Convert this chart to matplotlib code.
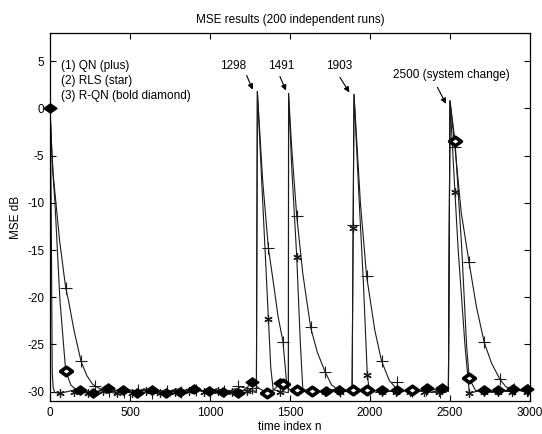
import matplotlib
matplotlib.use("Agg")
import matplotlib.pyplot as plt
from matplotlib.path import Path

plt.rcParams['font.family'] = ['Liberation Sans', 'DejaVu Sans']
plt.rcParams['axes.unicode_minus'] = False

# (1) QN  -- plus markers
qn_n = [0, 10, 20, 37, 60, 98, 115, 150, 194, 230, 265, 300, 340, 390, 440, 490, 540,
        590, 640, 690, 740, 790, 840, 890, 940, 990, 1040, 1090, 1140, 1190, 1240, 1290,
        1296, 1329, 1365, 1394, 1425, 1456, 1480, 1490, 1491, 1510, 1542, 1580, 1629,
        1670, 1719, 1760, 1800, 1850, 1888, 1900, 1940, 1979, 2030, 2073, 2120, 2160,
        2200, 2250, 2300, 2350, 2400, 2450, 2490, 2500, 2531, 2570, 2619, 2665, 2714,
        2760, 2812, 2850, 2900, 2950, 3000]
qn_db = [0, -4, -7, -10, -14, -19.0, -20.3, -23.5, -26.8, -28.3, -29.2, -29.6, -29.9,
         -29.7, -30.1, -29.8, -30.0, -29.7, -30.1, -29.9, -30.0, -29.7, -30.1, -29.8,
         -29.9, -30.1, -29.7, -29.9, -30.0, -29.5, -29.7, -30.0,
         1.8, -7.6, -14.8, -18.2, -22.0, -24.7, -29.3, -29.8, 1.6, -4.0, -11.4, -17.5,
         -23.2, -25.8, -27.9, -29.3, -29.8, -30.0, -29.9, 1.5, -10.0, -17.8, -23.5,
         -26.8, -28.8, -29.6, -29.9, -29.8, -30.0, -29.7, -30.0, -29.8, -29.9, 0.8,
         -4.1, -11.0, -16.3, -21.0, -24.8, -27.0, -28.7, -29.5, -29.8, -29.9, -29.8]
qn_mark_n = [98, 194, 280, 370, 460, 550, 640, 730, 820, 910, 1000, 1090, 1173, 1265,
             1365, 1458, 1542, 1629, 1719, 1810, 1893, 1979, 2073, 2167, 2260, 2350,
             2440, 2531, 2619, 2714, 2812, 2900, 2985]
qn_mark_db = [-19.0, -26.8, -29.4, -29.9, -30.0, -29.8, -30.1, -29.9, -30.0, -29.8, -30.0,
              -29.9, -29.4, -29.6, -14.8, -24.7, -11.4, -23.2, -27.9, -29.9, -12.3,
              -17.8, -26.8, -29.0, -29.9, -29.8, -30.0, -4.1, -16.3, -24.8, -28.7,
              -29.7, -29.8]

# (2) RLS -- star markers
rls_n = [0, 5, 8, 11, 14, 20, 30, 60, 110, 160, 210, 260, 310, 360, 410, 460, 510, 560,
         610, 660, 710, 760, 810, 860, 910, 960, 1010, 1060, 1110, 1160, 1210, 1260,
         1290, 1296, 1323, 1365, 1380, 1395, 1440, 1490, 1491, 1510, 1542, 1565, 1580,
         1620, 1670, 1720, 1770, 1820, 1860, 1888, 1900, 1930, 1958, 1983, 1995, 2040,
         2090, 2140, 2190, 2240, 2290, 2340, 2390, 2440, 2490, 2500, 2531, 2550, 2594,
         2621, 2660, 2710, 2760, 2810, 2860, 2910, 2960, 3000]
rls_db = [0, -6, -12, -20, -28, -29.6, -30.1, -30.2, -30.0, -29.8, -30.1, -30.2, -29.9,
          -30.0, -30.2, -29.9, -30.1, -30.0, -29.8, -30.1, -30.2, -29.9, -30.0, -30.1,
          -29.8, -30.0, -30.2, -29.9, -30.0, -29.7, -29.9, -30.0,
          -30.1, 1.8, -7.6, -22.3, -27.5, -29.8, -30.0, -30.1, 1.6, -6.0, -15.7, -25.0,
          -29.7, -30.0, -29.9, -30.1, -29.8, -30.0, -29.9, -30.0, 1.5, -9.0, -18.2,
          -28.2, -29.8, -30.1, -29.9, -30.0, -29.8, -30.1, -29.9, -30.0, -30.1, -29.9,
          -30.0, 0.8, -8.9, -14.7, -25.2, -30.2, -30.0, -29.9, -30.1, -29.9, -30.0,
          -29.8, -30.0, -29.9]
rls_mark_n = [60, 150, 240, 330, 420, 510, 600, 690, 780, 870, 960, 1050, 1140, 1230,
              1365, 1440, 1542, 1630, 1720, 1810, 1893, 1983, 2073, 2160, 2250, 2340,
              2430, 2531, 2621, 2712, 2800, 2890, 2980]
rls_mark_db = [-30.1, -30.0, -30.1, -29.9, -30.1, -30.1, -29.9, -30.1, -30.0, -29.9, -30.0,
               -29.9, -30.0, -29.9, -22.3, -30.0, -15.7, -30.0, -30.0, -30.0, -12.7,
               -28.2, -30.0, -30.0, -30.0, -30.0, -30.0, -8.9, -30.2, -30.0, -30.0,
               -30.0, -30.0]

# (3) R-QN -- bold diamond markers
rqn_n = [0, 15, 31, 62, 98, 130, 156, 187, 230, 270, 320, 363, 410, 455, 500, 543, 590,
         635, 680, 725, 770, 812, 855, 900, 950, 995, 1040, 1083, 1130, 1173, 1220, 1263,
         1310, 1356, 1400, 1437, 1455, 1500, 1542, 1590, 1635, 1680, 1725, 1765, 1806,
         1850, 1895, 1940, 1983, 2030, 2073, 2120, 2167, 2210, 2260, 2305, 2354, 2400,
         2448, 2490, 2500, 2531, 2573, 2604, 2620, 2660, 2712, 2755, 2800, 2850, 2894,
         2940, 2979, 3000]
rqn_db = [0, -6, -10, -20.3, -27.8, -29.3, -29.7, -29.8, -30.0, -30.2, -29.9, -29.6,
          -29.9, -29.8, -30.0, -30.1, -29.9, -29.8, -30.0, -30.1, -29.9, -30.0, -29.8,
          -29.7, -29.9, -29.9, -30.1, -30.0, -30.1, -30.2, -29.8, -29.0, -29.7, -30.1,
          -29.8, -29.1, -29.2, -29.8, -29.8, -30.0, -29.9, -30.0, -29.9, -29.8, -29.8,
          -30.0, -29.8, -30.0, -29.8, -29.9, -29.8, -30.0, -29.8, -29.9, -29.8, -29.9,
          -29.6, -29.8, -29.6, -29.9, 0.8, -3.4, -14.7, -25.2, -28.6, -29.9, -29.8,
          -30.0, -29.8, -29.9, -29.7, -29.9, -29.7, -29.8]
rqn_solid_n = [0, 187, 270, 363, 455, 543, 635, 725, 812, 900, 995, 1083, 1173, 1263,
               1437, 1725, 1806, 2073, 2167, 2354, 2448, 2712, 2800, 2894, 2979]
rqn_solid_db = [0, -29.8, -30.2, -29.6, -29.8, -30.1, -29.8, -30.1, -30.0, -29.7, -29.9,
                -30.0, -30.2, -29.0, -29.1, -29.9, -29.8, -29.8, -29.8, -29.6, -29.6,
                -29.8, -29.8, -29.7, -29.7]
rqn_hollow_n = [98, 1356, 1455, 1542, 1635, 1895, 1983, 2260, 2531, 2620]
rqn_hollow_db = [-27.8, -30.1, -29.2, -29.8, -29.9, -29.8, -29.8, -29.8, -3.4, -28.6]

legend_lines = ['(1) QN (plus)', '(2) RLS (star)', '(3) R-QN (bold diamond)']
events = ['1298', '1491', '1903', '2500 (system change)']

# flat diamond, wider than tall, like the matlab 'd' in the scan
diamond = Path([(-1, 0), (0, 0.72), (1, 0), (0, -0.72), (-1, 0)],
               [Path.MOVETO, Path.LINETO, Path.LINETO, Path.LINETO, Path.CLOSEPOLY])
star = (6, 2, 0)
lc = '#1a1a1a'

fig = plt.figure(figsize=(5.42, 4.34), dpi=100)
ax = fig.add_axes([50 / 542, 33 / 434, 480 / 542, 368 / 434])

ax.plot(qn_n, qn_db, color=lc, lw=0.8)
ax.plot(rls_n, rls_db, color=lc, lw=0.8)
ax.plot(rqn_n, rqn_db, color=lc, lw=0.8)

ax.plot(qn_mark_n, qn_mark_db, ls='none', marker='+', ms=8, mew=0.8, color=lc)
ax.plot(rls_mark_n, rls_mark_db, ls='none', marker=star, ms=6, mew=0.9, color=lc)
ax.plot(rqn_solid_n, rqn_solid_db, ls='none', marker=diamond, ms=9, mew=1.2,
        mfc='black', mec='black', clip_on=False)
ax.plot(rqn_hollow_n, rqn_hollow_db, ls='none', marker=diamond, ms=8.5, mew=2.6,
        mfc='white', mec='black')

# legend written as plain text (matlab style)
for i, s in enumerate(legend_lines):
    ax.text(70, 4.5 - 1.6 * i, s, fontsize=8.5, ha='left', va='center')

# event labels with arrows
label_xy = [(1144, 4.5), (1448, 4.5), (1806, 4.5), (2146, 3.6)]
label_ha = ['center', 'center', 'center', 'left']
arrow_tail = [(1229, 3.5), (1437, 3.4), (1812, 3.3), (2421, 2.25)]
arrow_head = [(1267, 2.0), (1475, 1.9), (1871, 1.7), (2475, 0.5)]
for s, xy, ha, t, h in zip(events, label_xy, label_ha, arrow_tail, arrow_head):
    ax.text(xy[0], xy[1], s, fontsize=8.5, ha=ha, va='center')
    ax.annotate('', xy=h, xytext=t,
                arrowprops=dict(arrowstyle='-|>', color='black', lw=0.8,
                                mutation_scale=8, shrinkA=0, shrinkB=0))

ax.set_xlim(0, 3000)
ax.set_ylim(-31, 8)
ax.set_xticks(range(0, 3001, 500))
ax.set_yticks(range(-30, 6, 5))
ax.tick_params(direction='in', top=True, right=True, length=4, width=0.8,
               labelsize=8.5, pad=4)
for sp in ax.spines.values():
    sp.set_linewidth(0.9)

ax.set_title('MSE results (200 independent runs)', fontsize=8.5, pad=7)
ax.set_xlabel('time index n', fontsize=8.5, labelpad=2)
ax.set_ylabel('MSE dB', fontsize=8.5, labelpad=4)

fig.savefig('out.png', dpi=100)
